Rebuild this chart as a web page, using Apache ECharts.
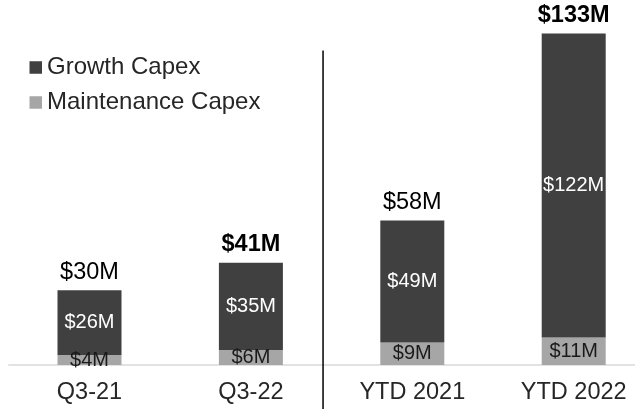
<!DOCTYPE html>
<html>
<head>
<meta charset="utf-8">
<script src="https://cdn.jsdelivr.net/npm/echarts@6/dist/echarts.min.js"></script>
<style>html,body{margin:0;padding:0;background:#fff}#c{width:635px;height:409px}</style>
</head>
<body>
<div id="c"></div>
<script>
const categories = ['Q3-21', 'Q3-22', 'YTD 2021', 'YTD 2022'];
const maintenanceCapex = [4, 6, 9, 11];
const growthCapex = [26, 35, 49, 122];
const totals = [30, 41, 58, 133];
const highlighted = ['Q3-22', 'YTD 2022'];

const FONT = "'Liberation Sans', Arial, sans-serif";
const chart = echarts.init(document.getElementById('c'), null, {renderer: 'canvas'});
const fmt = v => '$' + v + 'M';

const option = {
  animation: false,
  backgroundColor: '#ffffff',
  textStyle: {fontFamily: FONT},
  grid: {left: 8.8, width: 645.6, top: 16, bottom: 44, containLabel: false, outerBoundsMode: 'none'},
  legend: {
    orient: 'vertical', left: 29.5, top: 55.5, padding: 0,
    itemWidth: 12.5, itemHeight: 12.5, itemGap: 11,
    icon: 'rect',
    data: ['Growth Capex', 'Maintenance Capex'],
    textStyle: {fontFamily: FONT, fontSize: 24, lineHeight: 24, color: '#262626'}
  },
  xAxis: {
    type: 'category', data: categories,
    axisLine: {show: true, lineStyle: {color: '#d9d9d9', width: 1.5}},
    axisTick: {show: false},
    axisLabel: {fontFamily: FONT, fontSize: 23.5, color: '#262626', margin: 16}
  },
  yAxis: {type: 'value', min: 0, max: 140, show: false, splitLine: {show: false}},
  series: [
    {
      name: 'Maintenance Capex', type: 'bar', stack: 'capex', barWidth: 64,
      data: maintenanceCapex,
      itemStyle: {color: '#a6a6a6'},
      label: {show: true, position: 'inside', formatter: p => fmt(p.value), fontFamily: FONT, fontSize: 20, color: '#1a1a1a'}
    },
    {
      name: 'Growth Capex', type: 'bar', stack: 'capex', barWidth: 64,
      data: growthCapex,
      itemStyle: {color: '#404040'},
      label: {show: true, position: 'inside', formatter: p => fmt(p.value), fontFamily: FONT, fontSize: 20, color: '#ffffff'}
    },
    {
      name: 'Total', type: 'bar', stack: 'capex', barWidth: 64,
      data: totals.map((t, i) => ({
        value: 0,
        label: {fontWeight: highlighted.includes(categories[i]) ? 'bold' : 'normal'}
      })),
      itemStyle: {color: 'transparent'},
      label: {show: true, position: 'top', distance: 6, formatter: p => fmt(totals[p.dataIndex]), fontFamily: FONT, fontSize: 23.5, color: '#000000'},
      tooltip: {show: false}
    }
  ]
};
chart.setOption(option);

// divider line between the quarterly and YTD groups
const x1 = chart.convertToPixel({xAxisIndex: 0}, categories[1]);
const x2 = chart.convertToPixel({xAxisIndex: 0}, categories[2]);
const xm = x1 + 0.447 * (x2 - x1);
chart.setOption({
  graphic: [{
    type: 'line', z: 100,
    shape: {x1: xm, y1: 50.5, x2: xm, y2: 409},
    style: {stroke: '#000000', lineWidth: 1.5}
  }]
});
</script>
</body>
</html>
